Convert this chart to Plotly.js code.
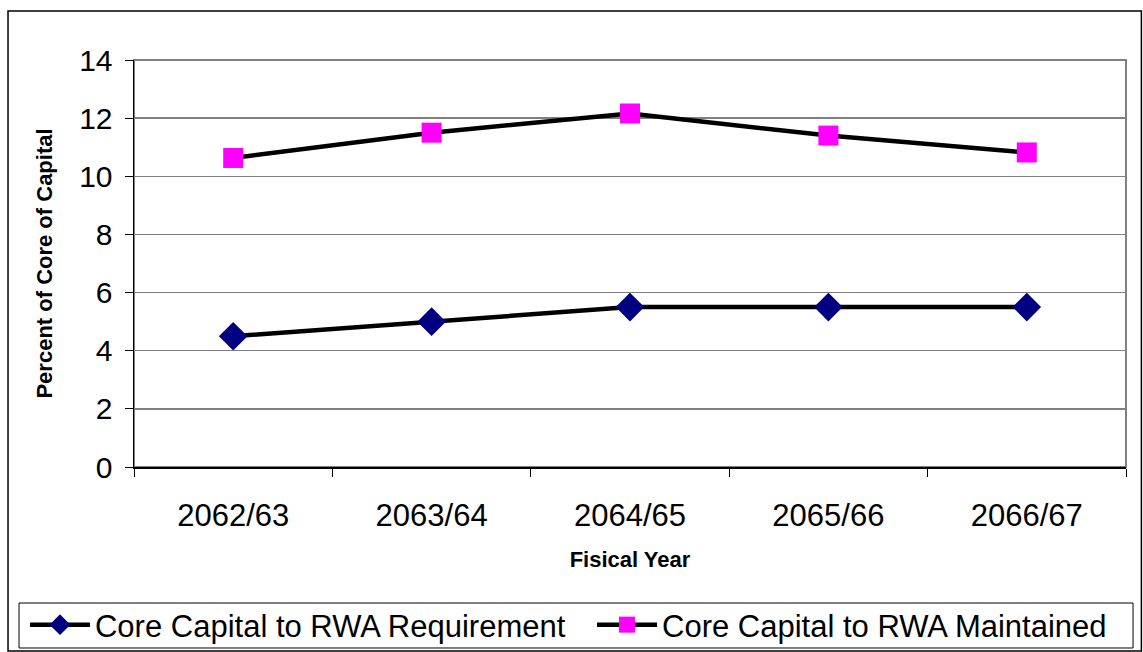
<!DOCTYPE html>
<html>
<head>
<meta charset="utf-8">
<script src="https://cdn.plot.ly/plotly-3.0.1.min.js"></script>
<style>html,body{margin:0;padding:0;background:#fff;}#chart{width:1143px;height:652px;}</style>
</head>
<body>
<div id="chart"></div>
<script>
const categories = ["2062/63", "2063/64", "2064/65", "2065/66", "2066/67"];
const requirementValues = [4.5, 5.0, 5.5, 5.5, 5.5];
const maintainedValues = [10.63, 11.5, 12.16, 11.4, 10.82];
const seriesNames = ["Core Capital to RWA Requirement", "Core Capital to RWA Maintained"];
const yTickValues = [0, 2, 4, 6, 8, 10, 12, 14];

const FONT = "Liberation Sans, Arial, sans-serif";

const traces = [
  {
    x: categories, y: requirementValues, name: seriesNames[0], legend: "legend",
    type: "scatter", mode: "lines+markers",
    line: {color: "#000000", width: 4.5},
    marker: {symbol: "diamond", color: "#000080", size: 22, line: {width: 0}}
  },
  {
    x: categories, y: maintainedValues, name: seriesNames[1], legend: "legend2",
    type: "scatter", mode: "lines+markers",
    line: {color: "#000000", width: 4.5},
    marker: {symbol: "square", color: "#FF00FF", size: 20, line: {width: 0}}
  }
];

const legendCommon = {
  orientation: "h", xanchor: "left", y: -0.3882, yanchor: "middle",
  borderwidth: 0, bgcolor: "rgba(0,0,0,0)",
  font: {family: FONT, size: 31, color: "#000000"},
  itemwidth: 60
};

const layout = {
  width: 1143, height: 652,
  margin: {l: 134, r: 17, t: 60, b: 185, autoexpand: false},
  paper_bgcolor: "#ffffff", plot_bgcolor: "#ffffff",
  font: {family: FONT, color: "#000000"},
  showlegend: true,
  legend: Object.assign({}, legendCommon, {x: -0.1099}),
  legend2: Object.assign({}, legendCommon, {x: 0.4617}),
  xaxis: {
    type: "category", range: [-0.5, 4.5], tickson: "boundaries", ticks: "outside", ticklen: 8, tickcolor: "#000000",
    showline: true, linecolor: "#000000", linewidth: 1.5, showgrid: false, zeroline: false,
    tickfont: {family: FONT, size: 31, color: "#000000"},
    ticklabelstandoff: 20,
    title: {text: "<b>Fisical Year</b>", font: {family: FONT, size: 22, color: "#000000"}, standoff: 20},
    fixedrange: true
  },
  yaxis: {
    range: [0, 14], tickvals: yTickValues, ticks: "outside", ticklen: 8, tickcolor: "#000000",
    showline: true, linecolor: "#000000", linewidth: 1.5,
    showgrid: true, gridcolor: "#808080", gridwidth: 1.5, zeroline: false,
    tickfont: {family: FONT, size: 30, color: "#000000"},
    ticklabelstandoff: 6,
    title: {text: "<b>Percent of Core of Capital</b>", font: {family: FONT, size: 22, color: "#000000"}, standoff: 20},
    fixedrange: true
  },
  shapes: [
    {type: "rect", xref: "paper", yref: "paper", x0: 0, x1: 1, y0: 0, y1: 1,
     line: {color: "#808080", width: 2}, layer: "below"},
    {type: "rect", xref: "paper", yref: "paper", x0: -0.127, x1: 1.0155, y0: -0.452, y1: 1.1204,
     line: {color: "#000000", width: 1.5}},
    {type: "rect", xref: "paper", yref: "paper", x0: -0.1159, x1: 1.0071, y0: -0.4447, y1: -0.3342,
     line: {color: "#000000", width: 1}, layer: "below"}
  ]
};

Plotly.newPlot("chart", traces, layout, {displayModeBar: false, staticPlot: true});
</script>
</body>
</html>
